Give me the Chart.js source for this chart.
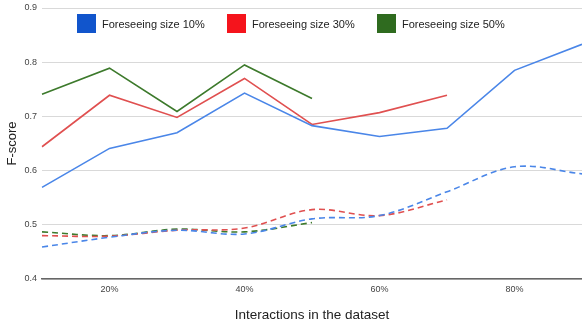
<!DOCTYPE html>
<html><head><meta charset="utf-8">
<script src="https://cdn.jsdelivr.net/npm/chart.js@4/dist/chart.umd.min.js"></script>
<style>
html,body{margin:0;padding:0;background:#fff;}
#wrap{position:relative;width:582px;height:324px;}
#legend{position:absolute;left:0;top:0;width:582px;height:40px;font-family:"Liberation Sans",Arial,sans-serif;font-size:11px;color:#222;}
.li{position:absolute;top:14px;height:19px;display:flex;align-items:center;white-space:nowrap;}
.sw{width:19px;height:19px;margin-right:6px;}
</style></head>
<body><div id="wrap"><canvas id="c" width="582" height="324"></canvas><div id="legend"></div></div>
<script>
const categories = ['10%','20%','30%','40%','50%','60%','70%','80%','90%'];
const tickLabels = ['', '20%', '', '40%', '', '60%', '', '80%', ''];
const seriesNames = ['Foreseeing size 10%','Foreseeing size 30%','Foreseeing size 50%'];
const solid10 = [0.569,0.641,0.670,0.743,0.683,0.663,0.678,0.785,0.833];
const solid30 = [0.644,0.739,0.698,0.770,0.685,0.707,0.739,null,null];
const solid50 = [0.741,0.789,0.709,0.795,0.733,null,null,null,null];
const dashed10 = [0.459,0.477,0.490,0.483,0.511,0.517,0.561,0.607,0.594];
const dashed30 = [0.480,0.479,0.490,0.494,0.528,0.517,0.546,null,null];
const dashed50 = [0.487,0.480,0.492,0.487,0.504,null,null,null,null];
const legendColors = ['#1155cc','#f5141c','#2f6b1f'];
const lineColors = ['#4a86e8','#e05050','#3d7a2c'];

const mk = (label, data, color, dashed) => ({
  label, data, borderColor: color, backgroundColor: color,
  borderWidth: 1.6, pointRadius: 0, fill: false, spanGaps: false,
  borderDash: dashed ? [6,4] : [], tension: dashed ? 0.35 : 0
});

new Chart(document.getElementById('c'), {
  type: 'line',
  data: {
    labels: categories,
    datasets: [
      mk(seriesNames[0], solid10, lineColors[0], false),
      mk(seriesNames[1], solid30, lineColors[1], false),
      mk(seriesNames[2], solid50, lineColors[2], false),
      mk(seriesNames[0]+' (d)', dashed10, lineColors[0], true),
      mk(seriesNames[1]+' (d)', dashed30, lineColors[1], true),
      mk(seriesNames[2]+' (d)', dashed50, lineColors[2], true)
    ]
  },
  options: {
    responsive: false, animation: false,
    layout: { padding: { top: 8, right: 0, left: 0, bottom: 0 } },
    plugins: { legend: { display: false }, tooltip: { enabled: false } },
    scales: {
      x: {
        offset: false,
        grid: { display: false, drawTicks: false },
        border: { display: true, color: '#666', width: 1.5 },
        ticks: { autoSkip: false, maxRotation: 0, padding: 5, color: '#444',
          font: { family: 'Liberation Sans, Arial', size: 9 },
          callback: (v, i) => tickLabels[i] },
        title: { display: true, text: 'Interactions in the dataset', color: '#222',
          font: { family: 'Liberation Sans, Arial', size: 13.5 }, padding: { top: 0, bottom: 1 } },
        afterFit: s => { s.height = 45; s.paddingRight = 0; s.paddingLeft = 0; }
      },
      y: {
        min: 0.4, max: 0.9,
        grid: { color: '#d9d9d9', drawTicks: false, lineWidth: 1 },
        border: { display: false },
        ticks: { stepSize: 0.1, padding: 5, color: '#444',
          font: { family: 'Liberation Sans, Arial', size: 9 },
          callback: v => v.toFixed(1) },
        title: { display: true, text: 'F-score', color: '#222',
          font: { family: 'Liberation Sans, Arial', size: 13 }, padding: { top: 5, bottom: 0 } },
        afterFit: s => { s.width = 42; s.paddingTop = 0; s.paddingBottom = 0; }
      }
    }
  }
});

const lg = document.getElementById('legend');
const lefts = [77, 227, 377];
seriesNames.forEach((n, i) => {
  const d = document.createElement('div');
  d.className = 'li'; d.style.left = lefts[i] + 'px';
  const s = document.createElement('span'); s.className = 'sw'; s.style.background = legendColors[i];
  const t = document.createElement('span'); t.textContent = n;
  d.appendChild(s); d.appendChild(t); lg.appendChild(d);
});
</script></body></html>
